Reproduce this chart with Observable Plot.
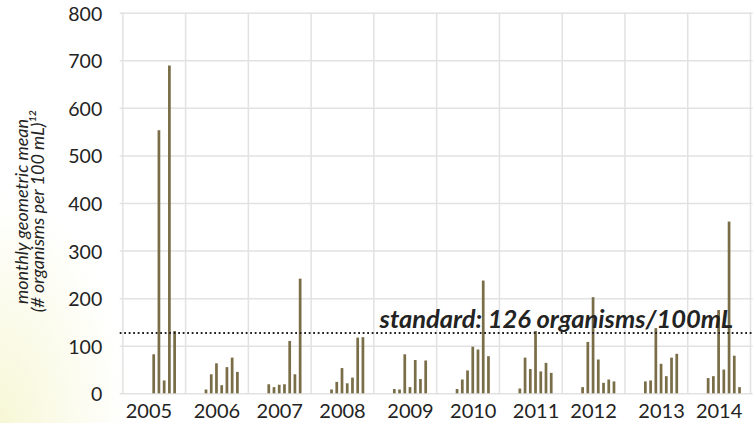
<!DOCTYPE html>
<html><head><meta charset="utf-8">
<script src="https://cdn.jsdelivr.net/npm/d3@7"></script>
<script src="https://cdn.jsdelivr.net/npm/@observablehq/plot@0.6"></script>
<style>
html,body{margin:0;padding:0;width:756px;height:423px;overflow:hidden;background:#fff}
#bg{position:absolute;left:0;top:0;width:756px;height:423px;background:radial-gradient(ellipse 130px 230px at 0px 423px,#f7f7d6 0%,#fbfbec 50%,rgba(255,255,255,0) 100%)}
#chart{position:absolute;left:0;top:0}
svg{background:transparent!important}
</style></head><body><div id="bg"></div><div id="chart"></div>
<script>
const years=[2005,2006,2007,2008,2009,2010,2011,2012,2013,2014];
const yearLabelSlots=[5,18,30,42,55,67,79,90,103,114];
const startMonth=[6,4,4,4,4,4,4,4,4,4];
const v2005=[82,553,27,689,131];
const v2006=[8,40,63,17,55,75,45];
const v2007=[19,13,18,19,110,40,241];
const v2008=[8,24,53,21,33,117,118];
const v2009=[9,8,82,13,70,30,69];
const v2010=[9,29,48,98,92,237,78];
const v2011=[10,75,51,131,46,64,43];
const v2012=[13,108,202,71,22,29,25];
const v2013=[25,27,137,62,36,75,83];
const v2014=[32,36,175,50,361,79,13];
const series=[v2005,v2006,v2007,v2008,v2009,v2010,v2011,v2012,v2013,v2014];
const yTicks=[0,100,200,300,400,500,600,700,800];
const standardLevel=128;
const standardLabel="standard: 126 organisms/100mL";
const yTitle="monthly geometric mean\n(# organisms per 100 mL)¹²";

const rows=series.flatMap((vals,i)=>vals.map((value,j)=>({slot:i*12+startMonth[i]+j,value})));
const yearEdges=d3.range(0,11).map(i=>i*12);
const ink="#232323";

const plot=Plot.plot({
  width:756,height:423,
  marginLeft:119.7,marginRight:3.4,marginTop:12.7,marginBottom:29.7,
  style:{background:"transparent",fontFamily:"Lato"},
  x:{type:"band",domain:d3.range(0,121),paddingInner:0.48,paddingOuter:0.24,round:false},
  y:{domain:[0,800]},
  marks:[
    Plot.ruleY(yTicks,{stroke:"#e2e2e2",strokeWidth:1.5}),
    Plot.ruleX(yearEdges,{x:d=>d,stroke:"#e2e2e2",strokeWidth:1.5}),
    Plot.barY(rows,{x:"slot",y:"value",fill:"#7a6e48"}),
    Plot.ruleY([standardLevel],{stroke:"#222",strokeWidth:2,strokeDasharray:"1.8 2.7"}),
    Plot.text([standardLabel],{frameAnchor:"bottom-right",dx:-20,dy:-66,fontSize:25.5,fontWeight:700,fontStyle:"italic",fill:ink,textAnchor:"end"}),
    Plot.axisY({ticks:yTicks,tickSize:0,tickPadding:18,dy:1.2,fontSize:19.5,label:null,fill:ink}),
    Plot.axisX({ticks:yearLabelSlots,tickFormat:(d)=>String(years[yearLabelSlots.indexOf(d)]),tickSize:0,tickPadding:10,fontSize:20,fill:ink,label:null}),
    Plot.text([yTitle],{frameAnchor:"left",textAnchor:"middle",rotate:-90,dx:-89,dy:8,fontSize:18,fontStyle:"italic",fill:ink,lineHeight:0.9})
  ]
});
document.getElementById("chart").append(plot);
</script></body></html>
